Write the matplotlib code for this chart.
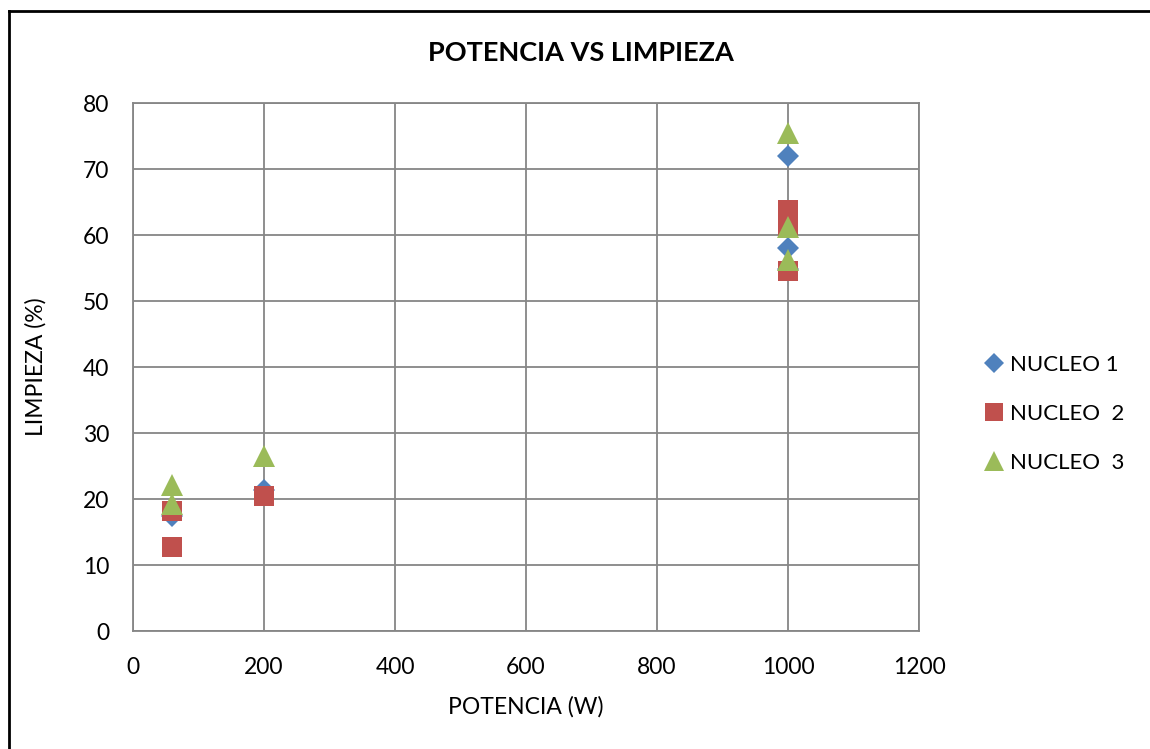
import matplotlib
matplotlib.use("Agg")
import matplotlib.pyplot as plt
from matplotlib.lines import Line2D

plt.rcParams['font.family'] = ['Lato', 'DejaVu Sans']

# Measured cleaning percentage per core and applied power
potencia_n1 = [60, 200, 1000, 1000, 1000]
limpieza_n1 = [17.5, 21.4, 72.0, 58.0, 54.8]

potencia_n2 = [60, 60, 200, 1000, 1000, 1000]
limpieza_n2 = [18.2, 12.8, 20.5, 63.8, 61.3, 54.6]

potencia_n3 = [60, 60, 200, 1000, 1000, 1000]
limpieza_n3 = [22.1, 19.3, 26.5, 75.4, 61.2, 56.2]

series_labels = ["NUCLEO 1", "NUCLEO  2", "NUCLEO  3"]
x_ticks = [0, 200, 400, 600, 800, 1000, 1200]
y_ticks = [0, 10, 20, 30, 40, 50, 60, 70, 80]

colors = ["#4F81BD", "#C0504D", "#9BBB59"]
markers = ["D", "s", "^"]
sizes = [11, 15, 16]

fig = plt.figure(figsize=(11.5, 7.49), dpi=100)
ax = fig.add_axes([133 / 1150, 1 - 631 / 749, 786 / 1150, 528 / 749])

data = [(potencia_n1, limpieza_n1), (potencia_n2, limpieza_n2), (potencia_n3, limpieza_n3)]
handles = []
for (xs, ys), c, m, s, lab in zip(data, colors, markers, sizes, series_labels):
    ax.plot(xs, ys, linestyle="none", marker=m, markersize=s, color=c,
            markeredgewidth=0, zorder=3, clip_on=False)
    handles.append(Line2D([], [], linestyle="none", marker=m, color=c,
                          markersize=s * 0.9, markeredgewidth=0, label=lab))

ax.set_xlim(0, 1200)
ax.set_ylim(0, 80)
ax.set_xticks(x_ticks)
ax.set_yticks(y_ticks)
ax.grid(True, color="#868686", linewidth=1.3)
ax.set_axisbelow(True)
for sp in ax.spines.values():
    sp.set_color("#868686")
    sp.set_linewidth(1.3)
ax.tick_params(axis="both", length=0, labelsize=16.5, colors="black")
ax.tick_params(axis="x", pad=19)
ax.tick_params(axis="y", pad=17)

ax.set_xlabel("POTENCIA (W)", fontsize=16.5, labelpad=13)
ax.set_ylabel("LIMPIEZA (%)", fontsize=16.5, labelpad=26)
fig.text(581 / 1150, 1 - 53 / 749, "POTENCIA VS LIMPIEZA", fontsize=19.5,
         fontweight="bold", ha="center", va="center")

fig.legend(handles=handles, loc="center left", bbox_to_anchor=(968 / 1150, 1 - 414 / 749),
           frameon=False, fontsize=16, handletextpad=0.0, labelspacing=1.3,
           handlelength=1.5, borderaxespad=0)

# chart frame (left and top edges)
fig.add_artist(Line2D([9 / 1150, 9 / 1150], [0, 1 - 11 / 749], color="black",
                      linewidth=2, transform=fig.transFigure))
fig.add_artist(Line2D([9 / 1150, 1], [1 - 11 / 749, 1 - 11 / 749], color="black",
                      linewidth=2, transform=fig.transFigure))

fig.savefig("out.png", dpi=100)
